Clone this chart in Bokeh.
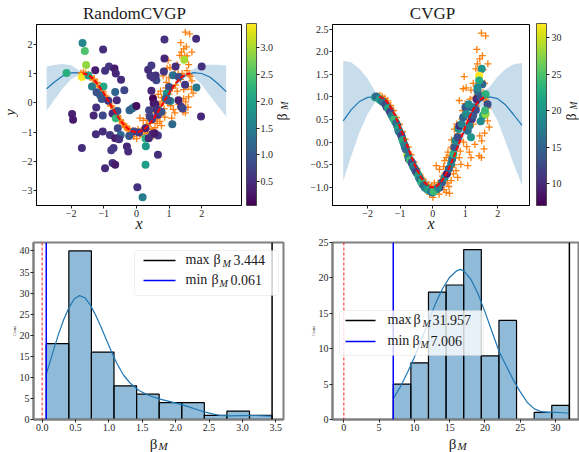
import numpy as np
from bokeh.plotting import figure
from bokeh.models import (Range1d, FixedTicker, ColorBar, LinearColorMapper, Span,
                          Label, BoxAnnotation, Arrow, ColumnDataSource)
from bokeh.palettes import Viridis256
from bokeh.layouts import column, row
from bokeh.embed import file_html
from bokeh.resources import INLINE

FONT = "Liberation Serif"

# ---------------- data ----------------
gp_x = [-2.75, -2.5, -2.25, -2.0, -1.75, -1.5, -1.25, -1.0, -0.75, -0.5, -0.25, 0.0,
        0.25, 0.5, 0.75, 1.0, 1.25, 1.5, 1.75, 2.0, 2.25, 2.5, 2.75]
rand_mean = [0.48, 0.72, 0.92, 1.02, 1.03, 0.93, 0.70, 0.30, -0.15, -0.58, -0.88, -1.0,
             -0.88, -0.58, -0.15, 0.30, 0.70, 0.93, 1.03, 1.0, 0.88, 0.65, 0.38]
rand_lower = [-0.27, 0.12, 0.50, 0.80, 0.96, 0.87, 0.64, 0.24, -0.21, -0.64, -0.95, -1.07,
              -0.95, -0.65, -0.22, 0.23, 0.63, 0.86, 0.90, 0.62, 0.25, -0.12, -0.47]
rand_upper = [1.24, 1.30, 1.32, 1.28, 1.10, 0.99, 0.76, 0.36, -0.09, -0.52, -0.81, -0.93,
              -0.81, -0.51, -0.08, 0.37, 0.77, 1.00, 1.15, 1.28, 1.30, 1.30, 1.27]
cv_mean = [0.47, 0.72, 0.90, 0.99, 1.0, 0.93, 0.70, 0.30, -0.15, -0.58, -0.88, -1.02,
           -0.90, -0.60, -0.15, 0.30, 0.70, 0.93, 1.0, 0.96, 0.82, 0.60, 0.37]
cv_lower = [-0.86, -0.30, 0.22, 0.62, 0.90, 0.85, 0.60, 0.20, -0.25, -0.68, -0.98, -1.12,
            -1.0, -0.70, -0.25, 0.18, 0.56, 0.78, 0.80, 0.47, 0.0, -0.50, -0.96]
cv_upper = [1.80, 1.76, 1.62, 1.40, 1.10, 1.01, 0.80, 0.40, -0.05, -0.48, -0.78, -0.92,
            -0.80, -0.50, -0.05, 0.42, 0.84, 1.08, 1.22, 1.45, 1.62, 1.72, 1.75]

true_x = [-1.65, -1.55, -1.45, -1.35, -1.25, -1.15, -1.05, -0.95, -0.85, -0.75, -0.65, -0.55,
          -0.45, -0.35, -0.25, -0.15, -0.05, 0.05, 0.15, 0.25, 0.35, 0.45, 0.55, 0.65, 0.75,
          0.85, 0.95, 1.05, 1.15, 1.25, 1.35, 1.45, 1.55, 1.65]
true_y = [1.0, 0.982, 0.928, 0.841, 0.724, 0.580, 0.415, 0.235, 0.048, -0.142, -0.327, -0.5,
          -0.655, -0.786, -0.889, -0.959, -0.995, -0.995, -0.959, -0.889, -0.786, -0.655, -0.5,
          -0.327, -0.142, 0.048, 0.235, 0.415, 0.580, 0.724, 0.841, 0.928, 0.982, 1.0]

obs_x = [-1.70, -1.66, -1.62, -1.58, -1.55, -1.50, -1.47, -1.42, -1.38, -1.33, -1.29, -1.24,
         -1.20, -1.15, -1.11, -1.06, -1.02, -0.97, -0.93, -0.88, -0.84, -0.79, -0.75, -0.70,
         -0.66, -0.61, -0.57, -0.52, -0.48, -0.43, -0.39, -0.34, -0.30, -0.25, -0.21, -0.16,
         -0.12, -0.07, -0.03, 0.01, -0.09, -0.19, -0.29, -0.35, 0.11, 0.26, 0.42, 0.52, 0.50,
         0.11, 0.21, 0.34, 0.42, 0.37, 0.47, 0.57, 0.42, 0.57, 0.64, 0.72, 0.77, 0.87, 0.82,
         0.62, 0.72, 0.82, 0.77, 0.67, 0.82, 0.94, 1.03, 1.18, 1.28, 0.92, 0.90, 1.58, 1.69,
         1.74, 1.45, 1.51, 1.58, 1.43, 1.50, 1.13, 1.18, 1.08, 1.50, 1.63, 1.45, 1.53, 1.70,
         1.38, 1.33, 1.48, 1.60, 1.55, 1.65, 1.40, 1.35, 1.25, 1.20, 1.10, 1.00, 0.95, 1.05,
         1.30, 1.60, 1.70, 1.45, 0.85, 0.70, 0.60, 0.55, 0.30, 0.25, 0.15, 0.05, 0.35, 0.45,
         0.20, 0.65, 1.00, 1.15, 1.25, 1.55, 1.62, 0.97, 1.36, 0.74, 0.58]
obs_y = [1.02, 0.97, 1.03, 0.96, 1.01, 0.93, 0.97, 0.87, 0.91, 0.78, 0.81, 0.69, 0.70, 0.55,
         0.54, 0.40, 0.39, 0.24, 0.23, 0.07, 0.06, -0.10, -0.11, -0.27, -0.28, -0.44, -0.44,
         -0.59, -0.58, -0.72, -0.71, -0.84, -0.81, -0.93, -0.89, -0.99, -0.94, -1.04, -0.97,
         -1.22, -1.15, -1.06, -0.89, -0.78, -1.07, -1.00, -1.11, -1.13, -0.98, -0.52, -0.60,
         -0.54, -0.34, -0.41, -0.22, -0.11, -0.70, -0.85, -0.70, -0.63, -0.78, -0.49, -0.34,
         -0.15, -0.04, 0.03, 0.18, 0.29, 0.92, 1.18, 1.20, 1.15, 0.99, 0.70, 0.51, 0.55, 0.47,
         0.33, 0.14, 0.03, -0.15, -0.30, -0.34, -0.22, -0.34, -0.52, 2.41, 2.35, 1.84, 1.91,
         1.73, 1.73, 1.62, 1.58, 1.30, 1.10, 0.90, 1.00, 0.80, 0.40, 0.60, 0.50, 0.30, 0.00,
         -0.10, -0.05, 0.20, 0.75, 0.45, -0.20, -0.35, -0.55, -0.30, -0.75, -0.85, -0.95,
         -0.90, -1.05, -0.90, -1.15, -0.50, 0.85, 0.95, 1.30, 1.60, 0.95, 1.45, 2.05, 0.40, 0.05]

rand_px = [-1.65, -1.58, -1.02, -1.54, -2.14, -1.67, -1.47, -1.26, -0.96, -0.84, -0.67, -0.63,
           -0.47, -1.36, -1.01, -1.11, -1.06, -0.86, -0.65, -0.37, -0.60, -1.23, -1.31, -1.03,
           -0.73, -0.63, -0.58, -1.97, -1.94, -0.57, -0.48, -1.24, -0.81, -0.65, -0.53, -0.29,
           -0.25, -0.70, -0.77, -1.67, -0.73, -0.65, -0.96, -0.21, -0.13, -0.05, 0.00, -0.07,
           0.08, 0.03, 0.19, 0.28, 0.29, 0.28, 0.38, 0.49, 0.66, 0.66, 0.39, 0.41, 0.46, 0.51,
           0.53, 0.58, 0.62, 0.66, 0.77, 0.36, 0.46, 0.43, 0.61, 0.59, 0.86, 0.86, 0.84, 1.00,
           0.93, 1.04, 0.97, 1.10, 1.12, 1.20, 1.30, 1.29, 1.37, 1.47, 1.49, 1.83, 1.84, 2.00,
           1.98, 1.42, 0.28, 0.48, 0.56, -0.22, 0.90, 0.51, -1.03, -1.22]
rand_py = [2.04, 1.77, 1.82, 1.29, 1.02, 0.88, 0.93, 1.11, 1.09, 1.24, 1.17, 1.00, 0.79, 0.56,
           0.56, 0.26, 0.13, 0.07, 0.37, 0.43, 0.09, -0.16, -0.43, -0.43, -0.36, -0.53, -0.28,
           -0.38, -0.58, -0.87, -1.10, -1.07, -1.10, -1.21, -1.24, -1.49, -1.66, -1.54, -1.62,
           -1.54, -2.05, -2.11, -2.23, -0.25, -0.19, -0.13, -0.11, -0.98, -1.01, -2.88, -3.22,
           -1.22, -1.48, -2.11, -1.21, -1.06, -1.11, -1.77, -0.25, -0.47, 0.41, 0.15, -0.02,
           -0.05, -0.22, -0.41, -0.30, 1.13, 1.27, 0.92, 0.77, 0.93, 2.16, 1.51, 1.07, 0.54,
           0.32, 0.06, 0.09, -0.73, 0.94, 1.24, 0.88, 0.09, -0.13, 1.47, 0.62, 2.18, 0.52, 1.24,
           -0.47, -0.19, -0.87, -0.56, -1.04, -1.13, 0.15, 0.86, -0.98, 0.36]
rand_beta = [1.6, 2.5, 0.5, 2.9, 2.2, 3.444, 2.0, 0.35, 0.55, 0.6, 0.3, 0.45, 0.5, 1.5, 2.1,
             1.25, 0.95, 0.6, 1.15, 0.8, 0.5, 0.55, 0.45, 0.8, 0.5, 2.3, 0.9, 0.4, 0.3, 0.77,
             1.2, 0.5, 0.6, 0.35, 0.55, 0.45, 0.5, 0.6, 0.65, 0.5, 0.55, 0.3, 0.5, 1.15, 1.1,
             1.45, 0.2, 0.85, 0.6, 0.55, 1.5, 2.2, 1.9, 1.95, 0.45, 0.5, 0.6, 0.5, 0.75, 0.76,
             0.45, 0.1, 0.25, 0.3, 0.55, 0.6, 0.9, 0.5, 0.65, 0.55, 0.82, 0.5, 0.55, 0.45, 0.6,
             0.8, 1.8, 1.55, 1.0, 1.2, 1.3, 0.5, 0.88, 0.35, 0.55, 3.0, 0.6, 0.5, 1.45, 0.55,
             0.45, 0.78, 0.4, 0.65, 0.3, 0.95, 1.1, 0.6, 0.5, 0.9]

cv_px = [-1.77, -1.70, -1.61, -1.51, -1.41, -1.34, -1.28, -1.21, -1.16, -1.09, -1.05, -0.98,
         -0.94, -0.90, -0.85, -0.78, -0.73, -0.68, -0.63, -0.58, -0.53, -0.48, -0.42, -0.37,
         -0.31, -0.24, -0.17, -0.09, -0.01, 0.06, 0.13, 0.21, 0.29, 0.37, 0.44, 0.50, 0.57,
         0.60, 0.64, 0.67, 0.70, 0.77, 0.80, 0.82, 0.89, 0.94, 1.01, 1.03, 1.08, 1.13, 1.18,
         1.21, 1.25, 1.18, 1.11, 1.28, 1.33, 1.38, 1.41, 1.35, 1.48, 1.53, 1.51, 1.43, 1.43,
         1.38, 1.63, 1.69, 1.55, 1.63, 1.48, 1.61,
         -1.74, -1.63, -1.55, -1.45, -1.37, -1.31, -1.25, -1.18, -1.12, -1.07, -1.02, -0.96,
         -0.92, -0.87, -0.82, -0.75, -0.70, -0.64, -0.60, -0.55, -0.50, -0.44, -0.39, -0.34,
         -0.27, -0.20, -0.13, -0.05, 0.03, 0.17]
cv_py = [0.99, 0.98, 0.93, 0.88, 0.77, 0.71, 0.62, 0.53, 0.46, 0.36, 0.25, 0.18, 0.09, 0.00,
         -0.11, -0.28, -0.37, -0.41, -0.48, -0.56, -0.63, -0.69, -0.78, -0.85, -0.93, -1.00,
         -1.04, -1.07, -1.11, -1.07, -1.04, -1.00, -0.89, -0.78, -0.70, -0.59, -0.48, -0.37,
         -0.26, -0.11, 0.03, 0.11, 0.29, 0.36, 0.40, 0.55, 0.77, 0.62, 0.25, 0.36, 0.11, 0.51,
         0.59, 0.77, 0.84, 0.77, 0.71, 1.14, 1.03, 0.95, 0.99, 1.28, 1.62, 1.47, 1.36, 1.20,
         1.06, 0.84, 0.59, 0.62, 0.46, 0.70,
         1.01, 0.95, 0.90, 0.83, 0.75, 0.67, 0.59, 0.50, 0.42, 0.31, 0.22, 0.14, 0.05, -0.06,
         -0.16, -0.32, -0.40, -0.45, -0.53, -0.59, -0.66, -0.73, -0.82, -0.89, -0.96, -1.01,
         -1.06, -1.09, -1.09, -1.01]
cv_beta = [22, 23, 19, 14, 10, 18, 23, 15, 19, 9, 14, 20, 16, 18, 13, 30, 8, 19, 10, 15, 21,
           23, 13, 18, 11, 19, 14, 18, 15, 20, 16, 11, 14, 19, 9, 15, 18, 16, 23, 14, 19, 13,
           20, 10, 18, 15, 14, 19, 16, 18, 20, 11, 14, 15, 19, 18, 13, 15, 16, 10, 14, 15, 20,
           31.957, 22.5, 19, 23, 13, 22, 28, 19, 24,
           16, 21, 17, 13, 22, 12, 18, 24, 16, 21, 17, 12, 22, 18, 16, 17, 24, 13, 18, 16, 12,
           21, 17, 23, 16, 18, 22, 17, 24, 18]

# histograms (counts)
rand_edges = [0.061, 0.3993, 0.7376, 1.0759, 1.4142, 1.7525, 2.0908, 2.4291, 2.7674, 3.1057, 3.444]
rand_counts = [18, 40, 16, 8, 6, 4, 4, 1, 2, 1]
cv_edges = [7.006, 9.501, 11.996, 14.491, 16.986, 19.482, 21.977, 24.472, 26.967, 29.462, 31.957]
cv_counts = [5, 8, 18, 19, 24, 9, 14, 0, 1, 2]

kde_rand_x = [0.061, 0.12, 0.18, 0.25, 0.32, 0.40, 0.48, 0.56, 0.64, 0.72, 0.80, 0.88, 0.96,
              1.04, 1.12, 1.22, 1.32, 1.45, 1.60, 1.75, 1.90, 2.05, 2.20, 2.35, 2.50, 2.65,
              2.80, 3.00, 3.20, 3.444]
kde_rand_y = [10.8, 13.8, 17.0, 20.5, 23.6, 26.5, 28.6, 29.4, 28.9, 27.2, 24.8, 22.0, 19.0,
              16.0, 13.3, 10.5, 8.6, 6.9, 5.7, 4.9, 4.3, 3.7, 3.0, 2.2, 1.5, 1.0, 0.85, 0.9,
              0.95, 0.8]
kde_cv_x = [7.006, 8.0, 9.0, 10.0, 11.0, 12.0, 13.0, 14.0, 15.0, 16.0, 16.5, 17.0, 18.0, 19.0,
            20.0, 21.0, 22.0, 23.0, 24.0, 25.0, 26.0, 27.0, 28.0, 29.0, 30.0, 31.0, 31.957]
kde_cv_y = [2.95, 4.6, 6.6, 8.8, 11.3, 13.9, 16.4, 18.5, 20.1, 21.0, 21.2, 21.0, 19.8, 17.8,
            15.2, 12.4, 9.6, 7.6, 5.6, 3.9, 2.4, 1.5, 1.1, 1.0, 1.0, 0.95, 0.88]

true_beta = 0.0
rand_min, rand_max = 0.061, 3.444
cv_min, cv_max = 7.006, 31.957

# ticks
top_x_ticks = [-2, -1, 0, 1, 2]
top_x_labels = ["\u22122", "\u22121", "0", "1", "2"]
rand_y_ticks = [-3, -2, -1, 0, 1, 2]
rand_y_labels = ["\u22123", "\u22122", "\u22121", "0", "1", "2"]
cv_y_ticks = [-1.0, -0.5, 0.0, 0.5, 1.0, 1.5, 2.0, 2.5]
cv_y_labels = ["\u22121.0", "\u22120.5", "0.0", "0.5", "1.0", "1.5", "2.0", "2.5"]
rand_cb_ticks = [0.5, 1.0, 1.5, 2.0, 2.5, 3.0]
rand_cb_labels = ["0.5", "1.0", "1.5", "2.0", "2.5", "3.0"]
cv_cb_ticks = [10, 15, 20, 25, 30]
cv_cb_labels = ["10", "15", "20", "25", "30"]
rh_x_ticks = [0.0, 0.5, 1.0, 1.5, 2.0, 2.5, 3.0, 3.5]
rh_x_labels = ["0.0", "0.5", "1.0", "1.5", "2.0", "2.5", "3.0", "3.5"]
rh_y_ticks = [0, 5, 10, 15, 20, 25, 30, 35, 40]
ch_x_ticks = [0, 5, 10, 15, 20, 25, 30]
ch_y_ticks = [0, 5, 10, 15, 20, 25]

TXT = "#262626"


def make_fig(w, h, bl, br, bt, bb, xr, yr, frame_color, frame_w):
    p = figure(width=w, height=h, min_border_left=bl, min_border_right=br,
               min_border_top=bt, min_border_bottom=bb, x_range=Range1d(*xr),
               y_range=Range1d(*yr), output_backend="svg", toolbar_location=None, tools="")
    p.grid.visible = False
    p.outline_line_color = frame_color
    p.outline_line_width = frame_w
    p.background_fill_color = "white"
    p.border_fill_color = "white"
    for ax in (p.xaxis[0], p.yaxis[0]):
        ax.axis_line_color = frame_color
        ax.axis_line_width = frame_w
        ax.major_tick_in = 0
        ax.major_tick_out = 3
        ax.major_tick_line_color = "#222222"
        ax.minor_tick_line_color = None
        ax.major_label_text_font = FONT
        ax.major_label_text_font_size = "10px"
        ax.major_label_text_color = TXT
        ax.major_label_standoff = 1
        ax.axis_label_text_font = FONT
        ax.axis_label_text_color = "#1a1a1a"
    return p


def strip(w, h):
    s = figure(width=w, height=h, min_border_left=0, min_border_right=0, min_border_top=0,
               min_border_bottom=0, x_range=Range1d(0, 1), y_range=Range1d(0, 1),
               x_axis_location=None, y_axis_location=None, output_backend="svg",
               toolbar_location=None, tools="")
    s.grid.visible = False
    s.outline_line_color = None
    s.border_fill_color = "white"
    s.background_fill_color = "white"
    return s


def set_ticks(ax, ticks, labels=None):
    ax.ticker = FixedTicker(ticks=ticks)
    if labels is not None:
        ax.major_label_overrides = {float(t): l for t, l in zip(ticks, labels)}


def lab(p, x, y, text, size, italic=False, angle=0.0, align="left"):
    p.add_layout(Label(x=x, y=y, x_units="screen", y_units="screen", text=text,
                       text_font=FONT, text_font_size=f"{size}px",
                       text_font_style="italic" if italic else "normal", angle=angle,
                       text_align=align, text_baseline="middle", text_color="#1a1a1a"))


def scatter_panel(w, bl, br, xr, yr, mean, lower, upper, px, py, beta, bmin, bmax,
                  xt, xl, yt, yl, cbt, cbl, fw, cb_gap, cb_standoff):
    p = make_fig(w, 212, bl, br, 2, 28, xr, yr, "black", 1)
    set_ticks(p.xaxis[0], xt, xl)
    set_ticks(p.yaxis[0], yt, yl)
    p.xaxis[0].axis_label = "x"
    p.xaxis[0].axis_label_text_font_style = "italic"
    p.xaxis[0].axis_label_text_font_size = "16px"
    p.xaxis[0].axis_label_standoff = -5
    p.varea(x=gp_x, y1=lower, y2=upper, fill_color="#1f77b4", fill_alpha=0.25)
    p.line(gp_x, mean, line_color="#1f77b4", line_width=1.2)
    p.scatter(obs_x, obs_y, marker="cross", size=7, line_color="#ff7f0e", line_width=1.3)
    mapper = LinearColorMapper(palette=Viridis256, low=bmin, high=bmax)
    src = ColumnDataSource(dict(x=px, y=py, b=beta))
    p.scatter("x", "y", source=src, size=8, line_color=None,
              fill_color={"field": "b", "transform": mapper})
    p.line(true_x, true_y, line_color="red", line_dash="5 2", line_width=2)
    cb = ColorBar(color_mapper=mapper, width=10, height=182, location=(fw + cb_gap, 0),
                  padding=0, margin=0, ticker=FixedTicker(ticks=cbt),
                  major_label_overrides={float(t): l for t, l in zip(cbt, cbl)},
                  major_tick_in=0, major_tick_out=3, major_tick_line_color="#222222",
                  major_label_text_font=FONT, major_label_text_font_size="10px",
                  major_label_text_color=TXT, label_standoff=cb_standoff,
                  bar_line_color="#333333", bar_line_width=0.8,
                  border_line_color=None, background_fill_alpha=0)
    p.add_layout(cb, "center")
    return p


# ---------- row T: titles (page y 0-22) ----------
t1 = strip(290, 22)
lab(t1, 134, 9.5, "RandomCVGP", 17, align="center")
t2 = strip(289, 22)
lab(t2, 142, 9.5, "CVGP", 17, align="center")

# ---------- row A: scatter panels (frames page y 24-206) ----------
ys = strip(18, 212)
lab(ys, 9.2, 93, "y", 15, italic=True, angle=np.pi / 2, align="center")

p1 = scatter_panel(256, 16, 33, (-3.06, 3.22), (-3.5, 2.67), rand_mean, rand_lower, rand_upper,
                   rand_px, rand_py, rand_beta, rand_min, rand_max, top_x_ticks, top_x_labels,
                   rand_y_ticks, rand_y_labels, rand_cb_ticks, rand_cb_labels, 207, 3, 1)

c1 = strip(16, 212)
lab(c1, 7.75, 88.5, "\u03b2", 14, angle=np.pi / 2, align="center")
lab(c1, 10.4, 100, "M", 10, italic=True, angle=np.pi / 2, align="center")

p2 = scatter_panel(273, 42, 34, (-3.08, 2.98), (-1.4, 2.6), cv_mean, cv_lower, cv_upper,
                   cv_px, cv_py, cv_beta, cv_min, cv_max, top_x_ticks, top_x_labels,
                   cv_y_ticks, cv_y_labels, cv_cb_ticks, cv_cb_labels, 197, 7, 2)
c2 = strip(16, 212)
lab(c2, 7.75, 88.5, "\u03b2", 14, angle=np.pi / 2, align="center")
lab(c2, 10.8, 100, "M", 9.5, italic=True, angle=np.pi / 2, align="center")


# ---------- row B: histograms (frames page y 242-419) ----------
def hist_panel(w, bl, br, xr, yr, edges, counts, kx, ky, bmin, bmax, xt, xl, yt,
               box, rows):
    p = make_fig(w, 201, bl, br, 8, 16, xr, yr, "#808080", 2)
    set_ticks(p.xaxis[0], xt, xl)
    set_ticks(p.yaxis[0], yt, [str(t) for t in yt])
    p.yaxis[0].axis_label = "Count"
    p.yaxis[0].axis_label_text_font_size = "4px"
    p.yaxis[0].axis_label_text_font_style = "normal"
    p.yaxis[0].axis_label_standoff = 0
    p.quad(left=edges[:-1], right=edges[1:], bottom=0, top=counts, fill_color="#1f77b4",
           fill_alpha=0.5, line_color="black", line_width=1.2)
    p.line(kx, ky, line_color="#1f77b4", line_width=1.2)
    p.add_layout(Span(location=true_beta, dimension="height", line_color="red",
                      line_dash="3 2", line_alpha=0.6, line_width=1.5))
    p.add_layout(Span(location=bmin, dimension="height", line_color="blue", line_width=1.5))
    p.add_layout(Span(location=bmax, dimension="height", line_color="black", line_width=1.5))
    l, r, t, b, lx0, lx1 = box
    p.add_layout(BoxAnnotation(left=l, right=r, top=t, bottom=b, left_units="screen",
                               right_units="screen", top_units="screen",
                               bottom_units="screen", fill_color="white", fill_alpha=0.8,
                               line_color="#cccccc", line_width=1, border_radius=3))
    for (ly, color, word, xs, ty, val) in rows:
        p.add_layout(Arrow(end=None, x_start=lx0, x_end=lx1, y_start=ly, y_end=ly,
                           start_units="screen", end_units="screen", line_color=color,
                           line_width=1.5))
        lab(p, xs[0], ty, word, 14)
        lab(p, xs[1], ty, "\u03b2", 14)
        lab(p, xs[2], ty - 3.5, "M", 10, italic=True)
        lab(p, xs[3], ty, val, 14)
    return p


p3 = hist_panel(290, 33, 7, (-0.13, 3.615), (0, 42), rand_edges, rand_counts, kde_rand_x,
                kde_rand_y, rand_min, rand_max, rh_x_ticks, rh_x_labels, rh_y_ticks,
                (101, 245, 169, 124, 110, 142),
                [(159, "black", "max", (152, 180, 189, 200), 160, "3.444"),
                 (139, "blue", "min", (152, 178, 186, 197), 140, "0.061")])

p4 = hist_panel(289, 42, 0, (-1.6, 33.39), (0, 25), cv_edges, cv_counts, kde_cv_x, kde_cv_y,
                cv_min, cv_max, ch_x_ticks, [str(t) for t in ch_x_ticks], ch_y_ticks,
                (7, 151, 109, 64, 13, 43),
                [(99, "black", "max", (55, 81, 90, 100), 100, "31.957"),
                 (78, "blue", "min", (55, 80, 88, 98), 79, "7.006")])

# ---------- row Z: beta_M labels (page y 435-452) ----------
z1 = strip(290, 17)
lab(z1, 153, 8.5, "\u03b2", 15, align="center")
lab(z1, 162.5, 6.2, "M", 11, italic=True, align="center")
z2 = strip(289, 17)
lab(z2, 162, 8.5, "\u03b2", 15, align="center")
lab(z2, 171.5, 6.2, "M", 11, italic=True, align="center")

layout = column(row(t1, t2), row(ys, p1, c1, p2, c2), row(p3, p4), row(z1, z2))
open("out.html", "w").write(file_html(layout, INLINE))
